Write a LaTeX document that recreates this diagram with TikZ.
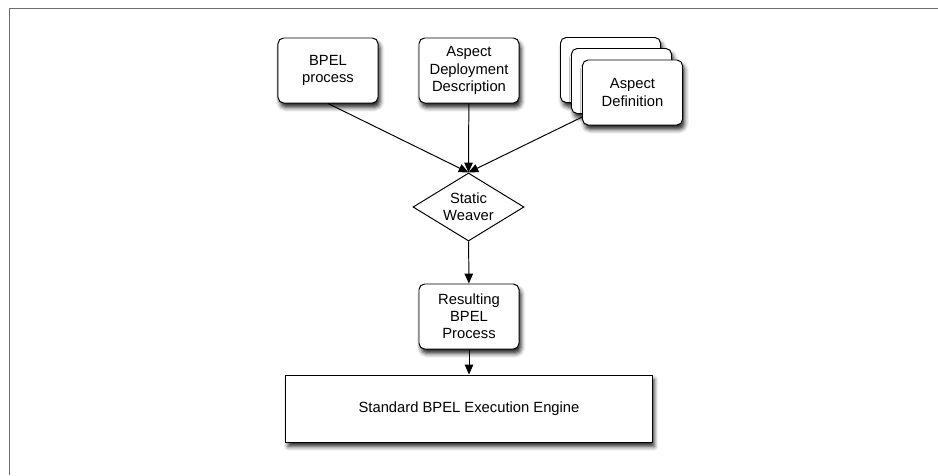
\documentclass[tikz,border=0pt]{standalone}
\usepackage{fontspec}
\setmainfont{Liberation Sans}
\usetikzlibrary{arrows.meta,positioning,shapes.geometric,shadows.blur}
\definecolor{Frame}{HTML}{6E6E6E}

\begin{document}
\begin{tikzpicture}[x=0.025cm,y=-0.025cm,
  every node/.style={font=\fontsize{10.5}{12.2}\selectfont,align=center},
  softshadow/.style={blur shadow={shadow xshift=1.5pt,shadow yshift=-3.2pt,shadow blur radius=3pt,shadow opacity=85}},
  procbox/.style={draw,line width=0.7pt,fill=white,rounded corners=4pt,minimum width=2.5cm,minimum height=1.625cm,inner sep=2pt,softshadow},
  weaver/.style={draw,line width=0.7pt,fill=white,diamond,aspect=1.63,inner sep=0pt,minimum width=2.775cm,minimum height=1.7cm},
  enginebox/.style={draw,line width=0.7pt,fill=white,minimum width=9.15cm,minimum height=1.675cm,softshadow},
  flow/.style={-{Triangle[length=7pt,width=6pt]},line width=0.7pt}]
\useasboundingbox (0,0) rectangle (938,475);
% frame of the page
\draw[Frame,line width=1.1pt] (9.5,475) |- (938,8.5);
% inputs
\node[procbox] (bpel) at (328,70.5) {BPEL\\process};
\node[procbox] (add) at (469,70.5) {Aspect\\Deployment\\Description};
\node[procbox] (defc) at (610.5,70) {};
\node[procbox] (defb) at (621.5,81) {};
\node[procbox] (def) at (632.5,92.5) {Aspect\\Definition};
% weaving
\node[weaver] (sw) at (468.5,207) {Static\\Weaver};
\node[procbox] (res) at (469,316.5) {Resulting\\BPEL\\Process};
\node[enginebox] (engine) at (469,408.5) {Standard BPEL Execution Engine};
\draw[flow] (bpel.south) -- (sw.north);
\draw[flow] (add) -- (sw.north);
\draw[flow] (def) -- (sw.north);
\draw[flow] (sw) -- (res);
\draw[flow] (res) -- (engine);
\end{tikzpicture}
\end{document}
